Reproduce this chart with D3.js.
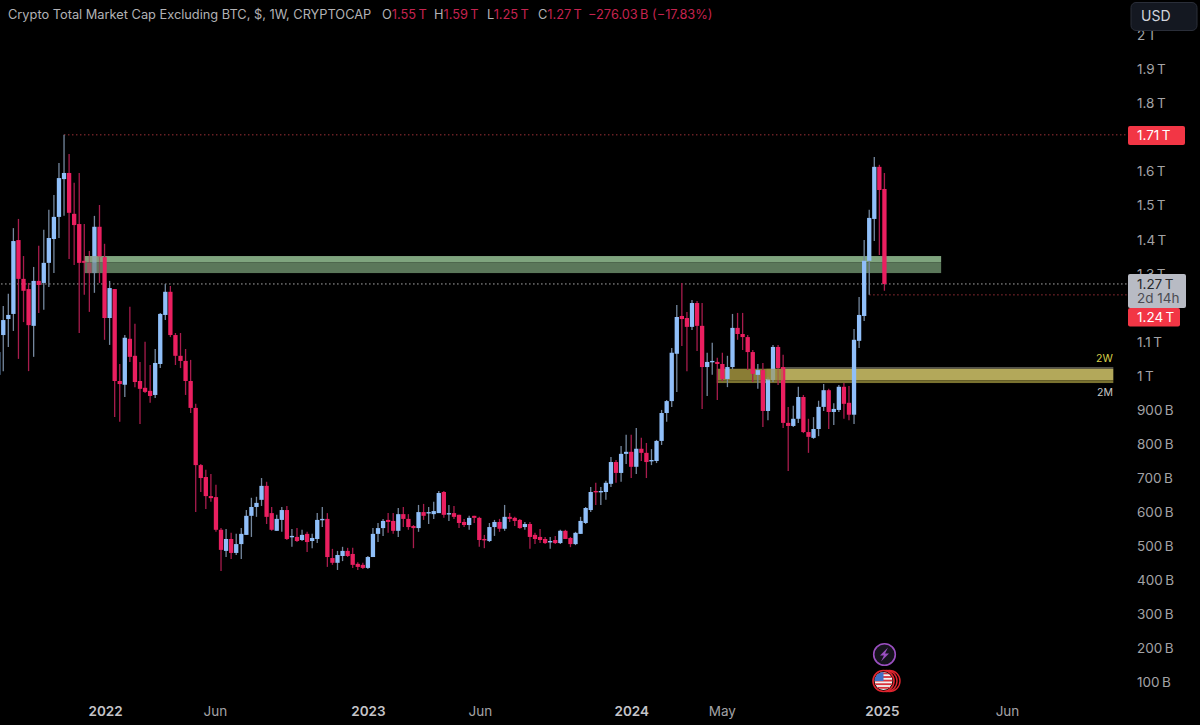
<!DOCTYPE html>
<html lang="en">
<head>
<meta charset="UTF-8">
<title>Crypto Total Market Cap Excluding BTC</title>
<script src="https://d3js.org/d3.v7.min.js"></script>
<style>
  html, body { margin: 0; padding: 0; background: #000; overflow: hidden; }
  svg { display: block; font-family: Inter, "Noto Sans", sans-serif; }
</style>
</head>
<body>
<div id="chart"></div>
<script>
// weekly candles, values in billions USD
const opens = [
  1000,1117,1164,1179,1396,1282,1252,1144,1276,1270,
  1329,1399,1464,1575,1593,1473,1443,1335,1329,1299,
  1435,1346,1167,1252,982,971,1106,1056,982,962,
  953,941,1032,1176,1244,1117,1056,1041,982,903,
  735,700,644,641,545,483,518,477,503,530,
  586,612,633,674,594,542,574,603,524,524,
  515,533,512,518,574,577,462,448,468,483,
  474,445,442,433,465,533,550,574,571,542,
  591,577,556,550,597,594,591,594,656,591,
  594,589,568,559,586,580,518,512,553,568,
  548,583,580,574,553,562,530,524,518,509,
  515,506,542,521,503,533,565,603,659,656,
  656,680,744,712,768,774,730,783,771,747,
  747,806,888,923,1062,1173,1167,1141,1211,1144,
  1023,1038,1038,1032,988,1023,1138,1120,1111,1067,
  1000,1014,894,985,1082,1023,859,850,871,935,
  832,815,841,906,955,891,897,965,918,883,
  1100,1173,1335,1458,1611,1546
];
const highs = [
  1103,1202,1238,1431,1458,1349,1270,1317,1379,1426,
  1485,1528,1622,1705,1649,1564,1593,1443,1364,1467,
  1499,1385,1276,1252,1032,1117,1200,1150,1038,1097,
  1029,1076,1182,1267,1261,1123,1123,1076,1044,915,
  738,721,709,677,550,547,536,533,550,603,
  639,642,697,686,612,589,612,615,547,550,
  545,539,533,594,612,594,489,483,495,492,
  492,450,448,468,550,565,577,594,594,609,
  612,591,559,618,621,612,627,659,659,618,
  615,589,577,586,586,583,530,565,574,577,
  618,594,583,577,568,568,536,547,524,524,
  527,545,545,524,539,583,612,671,683,671,
  689,759,750,791,824,824,844,815,800,782,
  809,897,926,1079,1205,1270,1185,1220,1217,1211,
  1065,1094,1050,1065,1056,1179,1182,1182,1117,1073,
  1032,1035,994,1088,1088,1059,906,909,965,941,
  871,876,924,973,959,917,970,976,967,1135,
  1229,1396,1485,1640,1617,1593
];
const lows = [
  935,1011,1082,1129,1047,1155,1011,1053,1182,1191,
  1258,1299,1402,1467,1340,1323,1123,1235,1185,1241,
  1270,1103,1088,876,862,935,1038,964,856,947,
  918,932,1020,1161,1111,1029,1020,941,888,597,
  656,606,627,539,424,465,459,471,459,530,
  524,583,615,562,542,542,539,515,495,509,
  512,480,491,506,553,436,442,427,453,465,
  433,427,430,430,465,509,527,536,533,524,
  553,545,491,539,574,562,577,594,580,571,
  577,550,553,545,565,495,491,509,527,539,
  542,568,556,548,545,489,503,506,503,489,
  503,503,518,494,500,533,562,597,618,618,
  633,671,683,686,738,697,709,747,697,735,
  741,794,862,906,950,1085,1011,1132,1070,900,
  938,1000,926,982,964,1017,1103,1073,1014,979,
  959,847,867,979,970,844,718,847,859,829,
  771,812,820,894,841,853,891,871,867,856,
  1079,1158,1235,1393,1352,1247
];
const closes = [
  1067,1161,1176,1393,1282,1247,1146,1276,1264,1329,
  1402,1464,1578,1593,1476,1440,1329,1329,1299,1435,
  1346,1167,1255,982,973,1109,1053,979,959,950,
  938,1035,1179,1244,1117,1056,1041,982,903,735,
  697,644,638,545,486,518,477,503,533,586,
  612,624,674,583,545,577,603,518,527,512,
  530,509,521,574,577,465,448,471,483,468,
  442,436,433,465,533,550,571,568,542,591,
  577,553,550,597,586,597,600,653,589,594,
  583,565,559,580,580,515,515,553,568,548,
  583,577,571,550,562,524,518,515,506,512,
  506,542,518,503,536,571,609,656,656,659,
  683,744,712,768,774,730,783,771,744,750,
  806,888,923,1065,1170,1164,1141,1211,1144,1023,
  1038,1041,1032,988,1023,1138,1120,1111,1067,1003,
  1014,894,988,1082,1020,859,850,871,935,832,
  818,841,906,955,891,900,965,915,883,1103,
  1176,1335,1461,1611,1543,1267
];

// 1.2 T and 1.7 T sit behind the price labels, so they are left out
const priceTicks = [100,200,300,400,500,600,700,800,900,1000,1100,1300,1400,1500,1600,1800,1900,2000];
// bar index of each time label
const timeTicks = [21.1, 42.8, 73, 95.1, 125, 142.9, 174.5, 199.2];
const timeLabels = ["2022", "Jun", "2023", "Jun", "2024", "May", "2025", "Jun"];
const yearLabels = ["2022", "2023", "2024", "2025"];

const highLevel = 1705, lastLevel = 1267, lowLevel = 1235;
const highIndex = 13, lowIndex = 172;

// green and yellow zones: bar range, top / split / bottom price
const greenZone = {from: 17.1, to: 186.2, top: 1349, mid: 1331, bottom: 1299};
const yellowZone = {from: 141.9, to: 220.2, line: 1023, top: 1018, mid: 984, bottom: 976, split: 155};

const width = 1200, height = 725;
const blue = "#90bff9", red = "#ea1f60", blueWick = "#74879e", redWick = "#a81c4d";

const x = d3.scaleLinear().domain([0, 237]).range([-1.8, 1198.4]);
const y = d3.scaleLinear().domain([100, 2000]).range([681.3, 34.4]);

const svg = d3.select("#chart").append("svg")
  .attr("width", width).attr("height", height)
  .style("background", "#000");

// zones under the candles
const zones = svg.append("g");
function band(g, from, to, top, bottom, fill) {
  g.append("rect")
    .attr("x", x(from)).attr("width", x(to) - x(from))
    .attr("y", y(top)).attr("height", y(bottom) - y(top))
    .attr("fill", fill);
}
band(zones, greenZone.from, greenZone.to, greenZone.top, greenZone.mid, "#7fa47e");
band(zones, greenZone.from, greenZone.to, greenZone.mid, greenZone.bottom, "#5b775a");
band(zones, yellowZone.split, yellowZone.to, yellowZone.line, yellowZone.top, "#57564f");
band(zones, yellowZone.from, yellowZone.split, yellowZone.top, yellowZone.mid, "#8a7d35");
band(zones, yellowZone.split, yellowZone.to, yellowZone.top, yellowZone.mid, "#b3a85a");
band(zones, yellowZone.from, yellowZone.to, yellowZone.mid, yellowZone.bottom, "#7a7230");

// price lines
const levels = [
  {v: highLevel, from: highIndex, color: "#a5323a"},
  {v: lastLevel, from: -1, color: "#b9b9b9"},
  {v: lowLevel, from: lowIndex, color: "#a5323a"}
];
svg.append("g").selectAll("line").data(levels).join("line")
  .attr("x1", d => x(d.from)).attr("x2", 1128)
  .attr("y1", d => y(d.v)).attr("y2", d => y(d.v))
  .attr("stroke", d => d.color)
  .attr("stroke-dasharray", "1.4 2.6");

// candles
const candles = d3.range(opens.length).map(i => ({
  i, o: opens[i], h: highs[i], l: lows[i], c: closes[i], up: closes[i] >= opens[i]
}));
const candleG = svg.append("g");
candleG.selectAll("line").data(candles).join("line")
  .attr("x1", d => x(d.i)).attr("x2", d => x(d.i))
  .attr("y1", d => y(d.h)).attr("y2", d => y(d.l))
  .attr("stroke", d => d.up ? blueWick : redWick)
  .attr("stroke-width", 1.3);
candleG.selectAll("rect").data(candles).join("rect")
  .attr("x", d => x(d.i) - 2.15).attr("width", 4.3)
  .attr("y", d => y(Math.max(d.o, d.c)))
  .attr("height", d => Math.max(1.4, Math.abs(y(d.o) - y(d.c))))
  .attr("fill", d => d.up ? blue : red);

// the start of each zone sits on top of the candles
const overlay = svg.append("g").attr("opacity", 0.6);
band(overlay, greenZone.from, 20.7, greenZone.top, greenZone.mid, "#8a9a78");
band(overlay, greenZone.from, 20.7, greenZone.mid, greenZone.bottom, "#6a7460");
band(overlay, 151.7, yellowZone.split, yellowZone.top, yellowZone.mid, "#a0933f");

// price axis
const fmtPrice = v => v >= 1000 ? (v / 1000) + "\u2009T" : v + "\u2009B";
svg.append("g")
  .attr("transform", "translate(1137,1)")
  .call(d3.axisRight(y).tickValues(priceTicks).tickSize(0).tickPadding(0).tickFormat(fmtPrice))
  .call(g => g.select(".domain").remove())
  .call(g => g.selectAll("text")
    .attr("fill", "#a3a3a6").attr("font-size", 13.5).attr("font-family", "Inter, sans-serif"));

// time axis
svg.append("g")
  .attr("transform", "translate(0,699)")
  .call(d3.axisBottom(x).tickValues(timeTicks).tickSize(0).tickPadding(7)
    .tickFormat((d, i) => timeLabels[i]))
  .call(g => g.select(".domain").remove())
  .call(g => g.selectAll("text")
    .attr("font-family", "Inter, sans-serif")
    .attr("font-size", 13.5)
    .attr("font-weight", (d, i) => yearLabels.includes(timeLabels[i]) ? 600 : 400)
    .attr("fill", (d, i) => yearLabels.includes(timeLabels[i]) ? "#c4c4c8" : "#a3a3a6"));

// price labels
function priceBox(x0, y0, w, h, fill) {
  svg.append("rect").attr("x", x0).attr("y", y0).attr("width", w).attr("height", h)
    .attr("rx", 2).attr("fill", fill);
}
function boxText(t, yc, fill) {
  svg.append("text").attr("x", 1137).attr("y", yc).attr("dy", "0.35em")
    .attr("font-size", 13.5).attr("fill", fill).text(t);
}
priceBox(1128, 126, 57, 19, "#f23645");
boxText("1.71\u2009T", 135.5, "#fff");
priceBox(1128, 274, 58, 34, "#b8bbc4");
boxText("1.27\u2009T", 284, "#26272b");
boxText("2d 14h", 298.5, "#4b4c52");
priceBox(1128, 308, 52, 18.5, "#f23645");
boxText("1.24\u2009T", 317, "#fff");

// zone labels
svg.append("text").attr("x", 1096).attr("y", 358).attr("dy", "0.35em")
  .attr("font-size", 10.5).attr("fill", "#d8cf4a").text("2W");
svg.append("text").attr("x", 1097).attr("y", 392).attr("dy", "0.35em")
  .attr("font-size", 10.5).attr("fill", "#c8c8c8").text("2M");

// header
const header = svg.append("text").attr("x", 8).attr("y", 15).attr("dy", "0.35em")
  .attr("font-size", 12.8).attr("fill", "#b2b2b5");
header.append("tspan").text("Crypto Total Market Cap Excluding BTC, $, 1W, CRYPTOCAP");
const headerRed = "#c5234f";
[["O", "1.55\u2009T", 382], ["H", "1.59\u2009T", 434], ["L", "1.25\u2009T", 487], ["C", "1.27\u2009T", 538]]
  .forEach(([k, v, px]) => {
    header.append("tspan").attr("x", px).text(k);
    header.append("tspan").attr("fill", headerRed).text(v);
  });
header.append("tspan").attr("x", 588).attr("fill", headerRed).text("\u2212276.03\u2009B (\u221217.83%)");

// currency button
svg.append("rect").attr("x", 1131).attr("y", 2.5).attr("width", 66).attr("height", 28)
  .attr("rx", 5).attr("fill", "#141821").attr("stroke", "#2a2e39");
svg.append("text").attr("x", 1141).attr("y", 16.5).attr("dy", "0.35em")
  .attr("font-size", 14).attr("fill", "#d1d4dc").text("USD");

// event icons
const bolt = svg.append("g").attr("transform", "translate(884.5,654.5)");
bolt.append("circle").attr("r", 10.8).attr("fill", "#15131c").attr("stroke", "#9a4fc0").attr("stroke-width", 1.6);
bolt.append("path").attr("d", "M3.5,-7 L-4.5,1 L-0.5,1 L-3.5,7 L4.5,-1 L0.5,-1 Z").attr("fill", "#9a4fc0");

const defs = svg.append("defs");
defs.append("clipPath").attr("id", "flagClip").append("circle").attr("r", 9);
const flag = svg.append("g").attr("transform", "translate(883.5,681)");
flag.append("circle").attr("cx", 6).attr("r", 10.5).attr("fill", "#000").attr("stroke", "#e0252f").attr("stroke-width", 1.4);
flag.append("circle").attr("cx", 3).attr("r", 10.5).attr("fill", "#000").attr("stroke", "#e0252f").attr("stroke-width", 1.4);
flag.append("circle").attr("r", 10.5).attr("fill", "#000").attr("stroke", "#e0252f").attr("stroke-width", 1.6);
const flagIn = flag.append("g").attr("clip-path", "url(#flagClip)");
flagIn.append("rect").attr("x", -9).attr("y", -9).attr("width", 18).attr("height", 18).attr("fill", "#f2f2f2");
d3.range(5).forEach(k => flagIn.append("rect")
  .attr("x", -9).attr("y", -8.5 + k * 3.6).attr("width", 18).attr("height", 1.8).attr("fill", "#d8313a"));
flagIn.append("rect").attr("x", -9).attr("y", -9).attr("width", 9).attr("height", 9).attr("fill", "#3f6fc4");
</script>
</body>
</html>
